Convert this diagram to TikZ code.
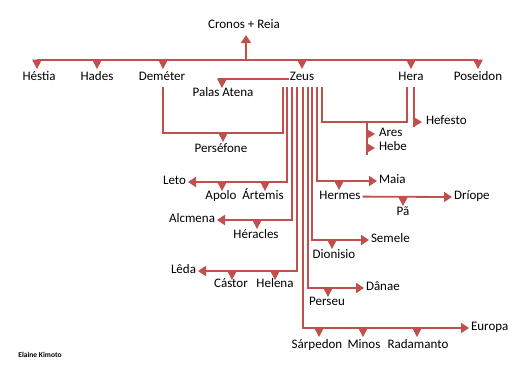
\documentclass[tikz,border=0pt]{standalone}
\usepackage{fontspec}
\setmainfont{Carlito}
\usetikzlibrary{arrows.meta}
\definecolor{redc}{RGB}{192,80,77}
\begin{document}
\begin{tikzpicture}[x=1pt,y=-1pt,
  famline/.style={draw=redc,line width=1.8pt},
  famarrow/.style={famline,-{Triangle[length=8pt,width=10pt]}},
  lbl/.style={font=\fontsize{13}{15}\selectfont,inner sep=2pt,outer sep=0pt,text=black},
  dtri/.pic={\fill[redc] (-5,-0.5) -- (5,-0.5) -- (0,9) -- cycle;},
  rtri/.pic={\fill[redc] (-0.5,-5) -- (-0.5,5) -- (8,0) -- cycle;}]
\useasboundingbox[fill=white] (0,0) rectangle (526,391);

% ---- labels ----
\node[lbl,anchor=base] (cronos) at (244,28) {Cronos + Reia};
\node[lbl,anchor=base] (hestia) at (39,80) {Héstia};
\node[lbl,anchor=base] (hades) at (97,80) {Hades};
\node[lbl,anchor=base] (demeter) at (162,80) {Deméter};
\node[lbl,anchor=base] (zeus) at (302,80) {Zeus};
\node[lbl,anchor=base] (hera) at (411,80) {Hera};
\node[lbl,anchor=base] (poseidon) at (478,80) {Poseidon};
\node[lbl,anchor=base] (palas) at (223,96) {Palas Atena};
\node[lbl,anchor=base] (persefone) at (221,152) {Perséfone};
\node[lbl,anchor=mid east] (leto) at (188,182) {Leto};
\node[lbl,anchor=base] (apolo) at (221,199) {Apolo};
\node[lbl,anchor=base] (artemis) at (263,199) {Ártemis};
\node[lbl,anchor=mid east] (alcmena) at (217,220) {Alcmena};
\node[lbl,anchor=base] (heracles) at (256,238) {Héracles};
\node[lbl,anchor=mid east] (leda) at (198,271) {Lêda};
\node[lbl,anchor=base] (castor) at (231,287) {Cástor};
\node[lbl,anchor=base] (helena) at (275,287) {Helena};
\node[lbl,anchor=mid west] (ares) at (377,134) {Ares};
\node[lbl,anchor=mid west] (hebe) at (377,148) {Hebe};
\node[lbl,anchor=mid west] (hefesto) at (424,122) {Hefesto};
\node[lbl,anchor=mid west] (maia) at (377,181) {Maia};
\node[lbl,anchor=base] (hermes) at (340,199) {Hermes};
\node[lbl,anchor=mid west] (driope) at (452,197) {Dríope};
\node[lbl,anchor=base] (pa) at (403,215) {Pã};
\node[lbl,anchor=mid west] (semele) at (369,240) {Semele};
\node[lbl,anchor=base] (dionisio) at (334,258) {Dionisio};
\node[lbl,anchor=mid west] (danae) at (364,288) {Dânae};
\node[lbl,anchor=base] (perseu) at (327,305) {Perseu};
\node[lbl,anchor=mid west] (europa) at (469,328) {Europa};
\node[lbl,anchor=base] (sarpedon) at (317,348) {Sárpedon};
\node[lbl,anchor=base] (minos) at (364,348) {Minos};
\node[lbl,anchor=base] (radamanto) at (418,348) {Radamanto};
\node[font=\bfseries\fontsize{7.5}{9}\selectfont,inner sep=0pt] (credit) at (40,355) {Elaine Kimoto};

% ---- connectors ----
\coordinate (barL) at (37,60);
\coordinate (barR) at (478,60);
\coordinate (top) at (246,60);
\draw[famline] (barL) -- (barR);
\draw[famarrow,shorten >=5pt] (top) -- (top |- cronos.south);
\foreach \x in {37,97,163,302,411,478} \pic at (\x,60) {dtri};

% Palas Atena
\coordinate (paR) at (289,79);
\coordinate (paL) at (218,79);
\draw[famline] (paR) -- (paL);
\pic at (222,79) {dtri};

% Zeus descent lines
\coordinate (dm) at (163,87);
\coordinate (z1) at (283,87);
\coordinate (z2) at (287,87);
\coordinate (z3) at (292,87);
\coordinate (z4) at (297,87);
\coordinate (z5) at (303,87);
\coordinate (z6) at (308,87);
\coordinate (z7) at (312,87);
\coordinate (z8) at (317,87);
\coordinate (z9) at (322,87);
\coordinate (hr) at (407,87);

\draw[famline] (dm) -- ++(0,46) -| (z1);
\pic at (223,133) {dtri};

\draw[famarrow] (z2) |- (leto.mid east);
\pic at (222,182) {dtri};
\pic at (265,182) {dtri};

\draw[famarrow] (z3) |- (alcmena.mid east);
\pic at (257,220) {dtri};

\draw[famarrow] (z4) |- (leda.mid east);
\pic at (232,271) {dtri};
\pic at (275,271) {dtri};

\draw[famarrow] (z5) |- (europa.mid west);
\foreach \x in {319,363,417} \pic at (\x,328) {dtri};

\draw[famarrow] (z6) |- (danae.mid west);
\pic at (328,288) {dtri};

\draw[famarrow] (z7) |- (semele.mid west);
\pic at (332,240) {dtri};

\draw[famarrow] (z8) |- (maia.mid west);
\pic at (339,181) {dtri};

\draw[famarrow] (hermes.mid east) -- (driope.mid west);
\pic at (403,197) {dtri};

% Zeus - Hera
\draw[famline] (z9) -- ++(0,35) -| (hr);
\coordinate (ah) at (367,122);
\draw[famline] (ah) -- ++(0,33);
\pic at (367,134) {rtri};
\pic at (367,148) {rtri};

% Hefesto
\coordinate (hf) at (414,87);
\draw[famline] (hf) -- ++(0,40);
\pic at (414,122) {rtri};
\end{tikzpicture}
\end{document}
